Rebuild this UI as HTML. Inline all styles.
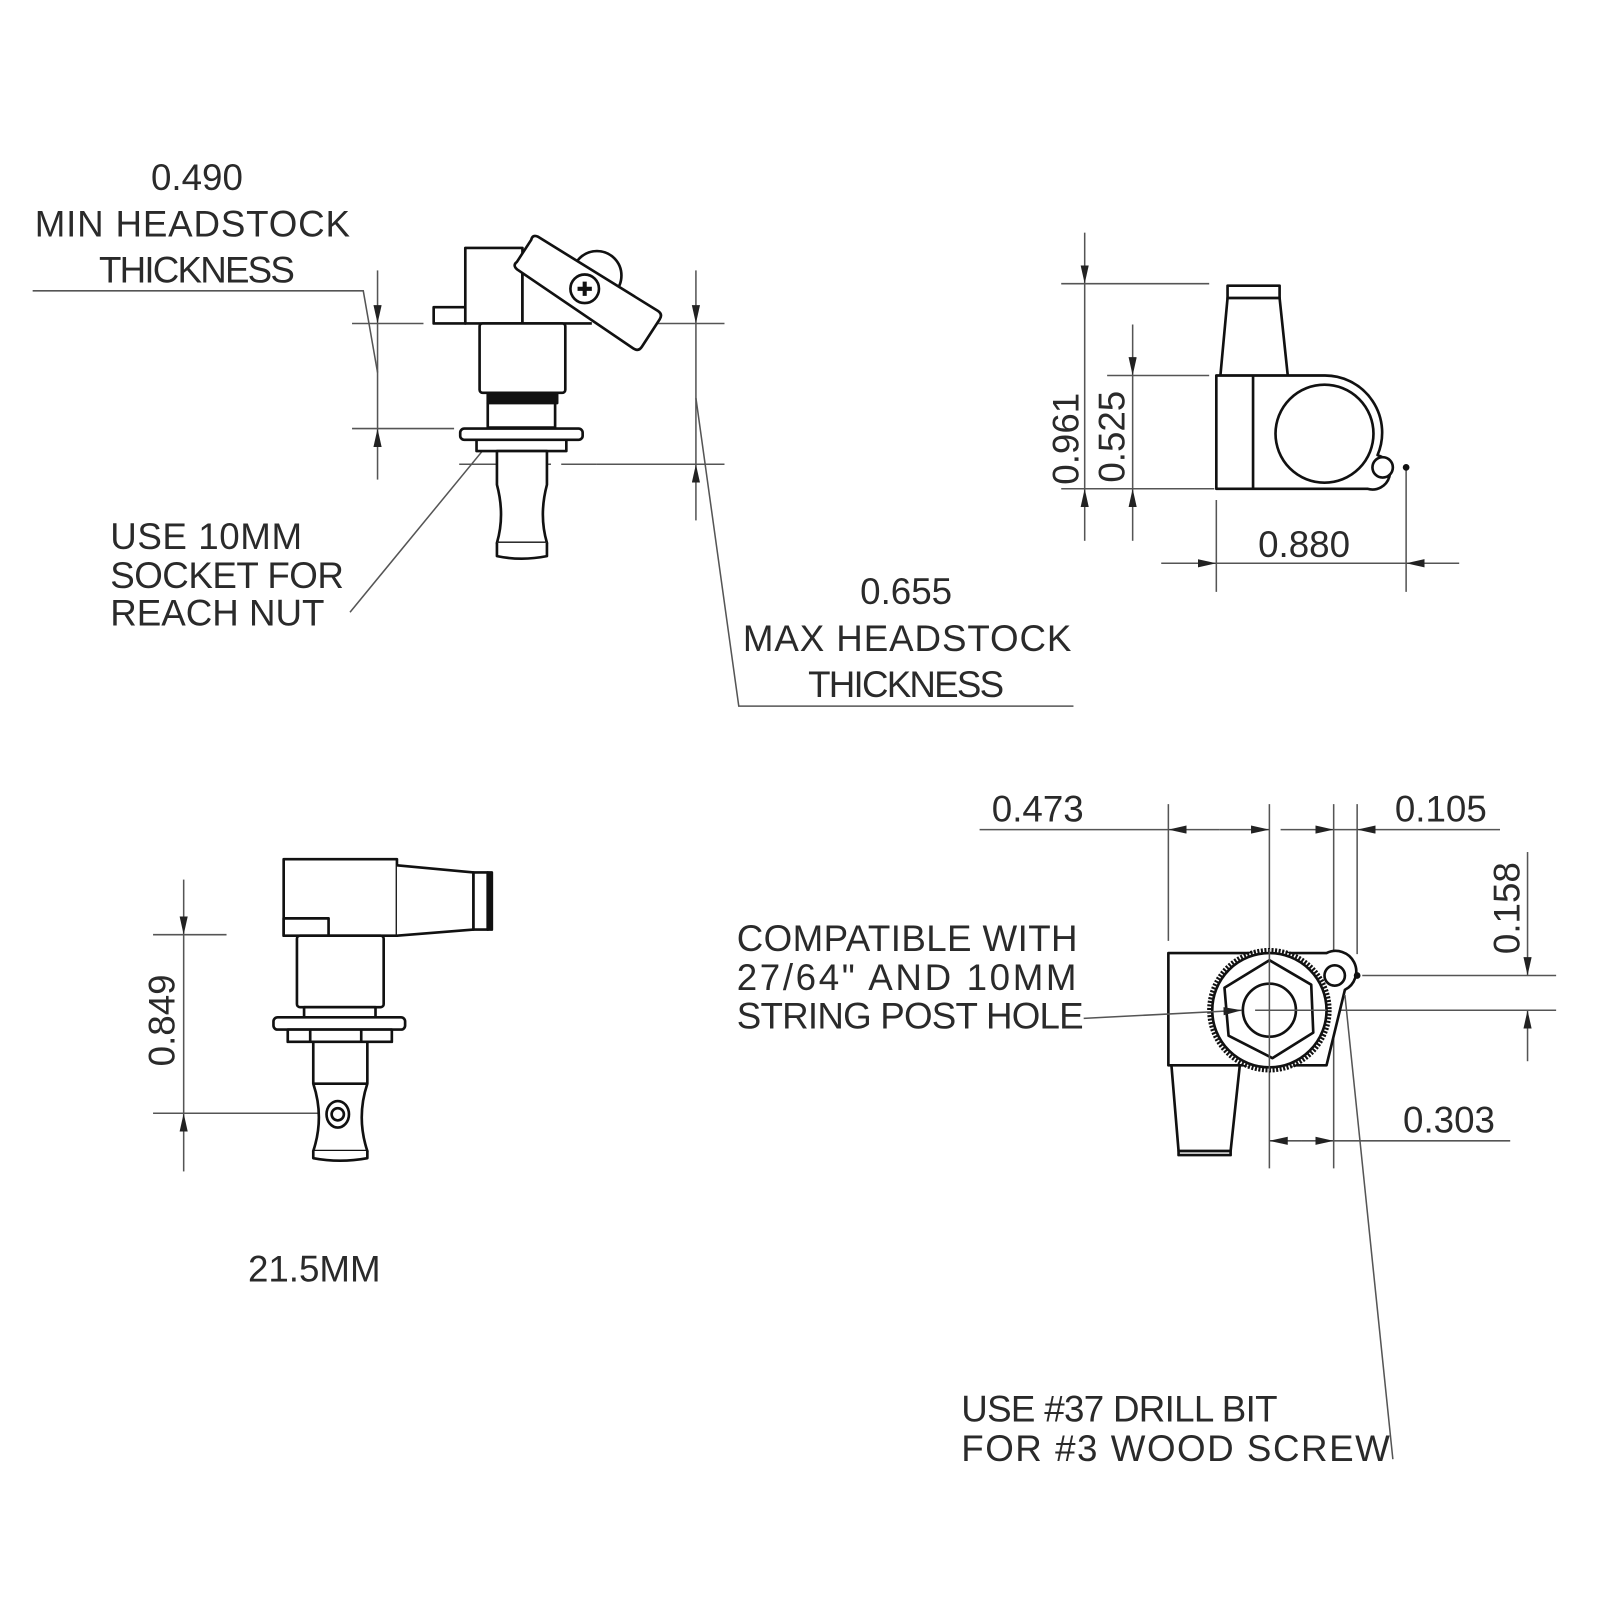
<!DOCTYPE html>
<html><head><meta charset="utf-8"><style>html,body{margin:0;padding:0;background:#fff}svg{display:block}text{font-family:"Liberation Sans","DejaVu Sans",sans-serif;font-size:36px;fill:#2a2a2a}</style></head>
<body>
<svg width="1600" height="1600" viewBox="0 0 1568 1568" xmlns="http://www.w3.org/2000/svg">
<defs>
<marker id="a" markerUnits="userSpaceOnUse" markerWidth="20" markerHeight="10" refX="18" refY="4" orient="auto"><path d="M0,0 L18,4 L0,8 Z" fill="#222"/></marker>
</defs>
<g fill="none" stroke="#555" stroke-width="1.5">
<path d="M32,285 H356 L370,365"/>
<path d="M370,265 V317" marker-end="url(#a)"/>
<path d="M370,470 V420" marker-end="url(#a)"/>
<path d="M370,317 V420"/>
<path d="M345,317 H415 M345,420 H445"/>
<path d="M682,265 V317" marker-end="url(#a)"/>
<path d="M682,510 V455" marker-end="url(#a)"/>
<path d="M682,317 V455"/>
<path d="M640,317 H710 M585,455 H710"/>
<path d="M450,455 H585" stroke-dasharray="40,10"/>
<path d="M682,390 L724,692 H1052"/>
<path d="M476,438 L343,600"/>
<path d="M1063,228 V278" marker-end="url(#a)"/>
<path d="M1063,530 V479" marker-end="url(#a)"/>
<path d="M1063,278 V479"/>
<path d="M1040,278 H1185 M1040,479 H1190 M1085,368 H1185"/>
<path d="M1110,318 V368" marker-end="url(#a)"/>
<path d="M1110,530 V479" marker-end="url(#a)"/>
<path d="M1110,368 V479"/>
<path d="M1192,490 V580 M1378,460 V580"/>
<path d="M1138,552 H1192" marker-end="url(#a)"/>
<path d="M1430,552 H1378" marker-end="url(#a)"/>
<path d="M1192,552 H1378"/>
<path d="M180,862 V916" marker-end="url(#a)"/>
<path d="M180,1148 V1091" marker-end="url(#a)"/>
<path d="M180,916 V1091"/>
<path d="M150,916 H222 M150,1091 H318"/>
<path d="M1145,788 V922 M1244,788 V1145 M1307,788 V1145 M1330,788 V935"/>
<path d="M960,813 H1145"/>
<path d="M1195,813 H1145" marker-end="url(#a)"/>
<path d="M1195,813 H1244" marker-end="url(#a)"/>
<path d="M1255,813 H1307" marker-end="url(#a)"/>
<path d="M1470,813 H1330" marker-end="url(#a)"/>
<path d="M1307,813 H1330"/>
<path d="M1497,835 V956" marker-end="url(#a)"/>
<path d="M1497,1040 V990" marker-end="url(#a)"/>
<path d="M1335,956 H1525 M1250,990 H1525"/>
<path d="M1275,1118 H1244" marker-end="url(#a)"/>
<path d="M1275,1118 H1307" marker-end="url(#a)"/>
<path d="M1307,1118 H1480"/>
</g>

<g fill="#fff" stroke="#111" stroke-width="2.6" stroke-linejoin="round">
<rect x="425" y="301" width="31" height="16"/>
<rect x="456" y="243" width="56" height="74"/>
<path d="M512,255 V317 H580"/>
<rect x="470" y="317" width="84" height="68" rx="3"/>
<rect x="478" y="385" width="68" height="10" fill="#111"/>
<rect x="478" y="395" width="66" height="24"/>
<rect x="451" y="420" width="120" height="11" rx="4"/>
<rect x="467" y="431" width="88" height="11"/>
<path d="M487,442 V475 Q495,505 487,532 H536 Q528,505 536,475 V442 Z"/>
<path d="M487,532 V545 Q511,550 536,545 V532"/>
<circle cx="585" cy="270" r="24"/>
<g transform="translate(574,285) rotate(33)">
<path d="M-72,-13 Q-74,-18 -68,-19 L70,-22 Q76,-22 76,-16 L76,16 Q76,22 70,22 L-68,19 Q-74,18 -72,13 Z"/>
</g>
<circle cx="573" cy="283" r="14"/>
<path d="M566,283 H580 M573,276 V290" stroke-width="4"/>

<path d="M1196,368 L1203,292 H1254 L1262,368"/>
<rect x="1203" y="280" width="51" height="12"/>
<path d="M1192,368 H1298 A56,56 0 0 1 1350,446 A17,17 0 1 1 1340,479 H1192 Z"/>
<path d="M1228,368 V479"/>
<circle cx="1298" cy="425" r="48"/>
<circle cx="1355" cy="458" r="10"/>
<circle cx="1378" cy="458" r="2" fill="#111"/>

<rect x="278" y="842" width="111" height="75"/>
<rect x="278" y="900" width="44" height="17"/>
<path d="M389,848 L464,855 V911 L389,917"/>
<rect x="464" y="855" width="14" height="56"/>
<rect x="478" y="855" width="4" height="56" fill="#111"/>
<rect x="291" y="917" width="85" height="70" rx="3"/>
<rect x="298" y="987" width="70" height="10"/>
<rect x="268" y="997" width="129" height="12" rx="4"/>
<rect x="282" y="1009" width="102" height="12"/>
<path d="M304,1009 V1021 M354,1009 V1021"/>
<path d="M307,1021 V1062 Q318,1095 307,1128 H360 Q349,1095 360,1062 V1021 Z"/>
<path d="M307,1062 H360"/>
<path d="M307,1128 V1135 Q333,1140 360,1135 V1128"/>
<ellipse cx="331" cy="1092" rx="11" ry="13"/>
<circle cx="331" cy="1092" r="6"/>

<path d="M1148,1044 L1155,1128 H1206 L1215,1044"/>
<rect x="1155" y="1128" width="51" height="4"/>
<path d="M1145,934 H1300 A17,17 0 0 1 1318,970 L1300,1044 H1145 Z"/>
<circle cx="1244" cy="990" r="59" stroke-width="4" stroke-dasharray="2,1.5"/>
<circle cx="1244" cy="990" r="56"/>
<polygon points="1244,941 1285,965 1287,1012 1247,1037 1204,1015 1200,968"/>
<circle cx="1244" cy="990" r="26"/>
<circle cx="1308" cy="956" r="10"/>
<circle cx="1330" cy="956" r="2" fill="#111"/>
</g>
<g fill="none" stroke="#555" stroke-width="1.5">
<path d="M1244,930 V1050 M1230,990 H1300"/>
<path d="M1062,998 L1217,990" marker-end="url(#a)"/>
<path d="M1318,975 L1365,1430"/>
</g>

<g>
<text x="193" y="186" text-anchor="middle">0.490</text>
<text x="34" y="232" textLength="309">MIN HEADSTOCK</text>
<text x="193" y="277" text-anchor="middle" textLength="192">THICKNESS</text>
<text x="108" y="538" textLength="188">USE 10MM</text>
<text x="108" y="576" textLength="229">SOCKET FOR</text>
<text x="108" y="613" textLength="210">REACH NUT</text>
<text x="888" y="592" text-anchor="middle">0.655</text>
<text x="728" y="638" textLength="322">MAX HEADSTOCK</text>
<text x="888" y="683" text-anchor="middle" textLength="192">THICKNESS</text>
<text transform="translate(1057,430) rotate(-90)" text-anchor="middle">0.961</text>
<text transform="translate(1102,428) rotate(-90)" text-anchor="middle">0.525</text>
<text x="1278" y="546" text-anchor="middle">0.880</text>
<text transform="translate(171,1000) rotate(-90)" text-anchor="middle">0.849</text>
<text x="308" y="1256" text-anchor="middle">21.5MM</text>
<text x="1017" y="805" text-anchor="middle">0.473</text>
<text x="1412" y="805" text-anchor="middle">0.105</text>
<text transform="translate(1489,890) rotate(-90)" text-anchor="middle">0.158</text>
<text x="1420" y="1110" text-anchor="middle">0.303</text>
<text x="722" y="932" textLength="334">COMPATIBLE WITH</text>
<text x="722" y="970" textLength="333">27/64" AND 10MM</text>
<text x="722" y="1008" textLength="340">STRING POST HOLE</text>
<text x="942" y="1393" textLength="310">USE #37 DRILL BIT</text>
<text x="942" y="1432" textLength="420">FOR #3 WOOD SCREW</text>
</g>
</svg>
</body></html>
